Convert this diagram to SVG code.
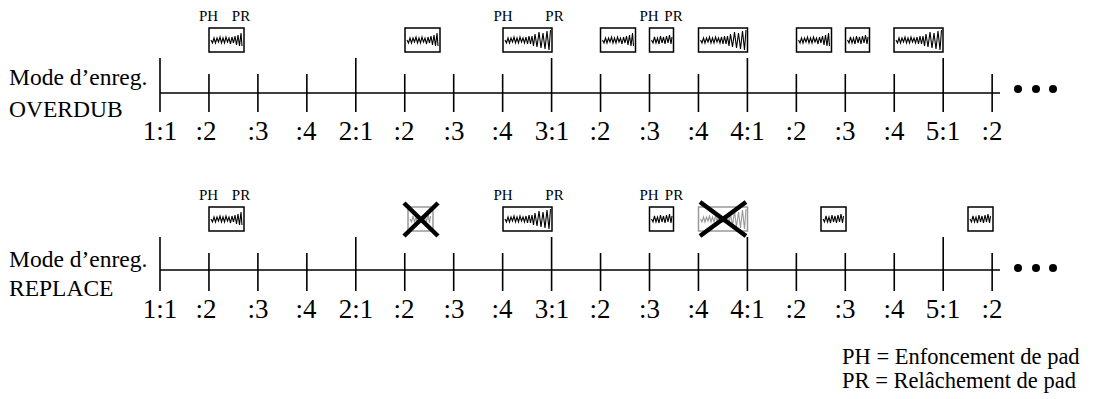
<svg xmlns="http://www.w3.org/2000/svg" xmlns:xlink="http://www.w3.org/1999/xlink" width="1096" height="399" viewBox="0 0 1096 399">
<style>
text{font-family:"Liberation Serif","Times New Roman",serif;fill:#000}
.lbl{font-size:23.5px}
.leg{font-size:22.5px}
.num{font-size:27px;text-anchor:middle}
.ph{font-size:15px;text-anchor:middle}
.axis{stroke:#000;stroke-width:1.6;fill:none}
.box{fill:#fff;stroke:#000;stroke-width:1.5}
.gbox{fill:#fff;stroke:#999;stroke-width:1.5}
.wave{fill:none;stroke:#000;stroke-width:1.1}
.gwave{fill:none;stroke:#999;stroke-width:1.1}
.cross{stroke:#000;stroke-width:4.5;stroke-linecap:butt}
</style>
<defs>
<polyline id="w35" points="2,12 3.5,15 5,10 6.5,15 8,10 9.5,14 11,9 12.5,15 14,10 15.5,15 17,9 18.5,14 20,10 21.5,16 23,9 24.5,15 26,8 27.5,17 29,7 30.5,18 32,5 33,18"/>
<polyline id="w49" points="2,12 3.5,15 5,10 6.5,15 8,10 9.5,14 11,9 12.5,15 14,10 15.5,15 17,9 18.5,14 20,10 21.5,15 23,9 24.5,16 26,8 27.5,16 29,8 30.5,18 32,6 34,19 36,4 38,20 40,5 42,21 44,3 46,22 47.5,2"/>
<polyline id="w24" points="2,12 3.5,15 5,9 6.5,15 8,10 9.5,16 11,8 12.5,15 14,9 15.5,16 17,8 18.5,15 20,7 21.5,16 22.5,9"/>
</defs>

<g id="overdub-label">
<text class="lbl" x="9" y="85">Mode d’enreg.</text>
<text class="lbl" x="9" y="117">OVERDUB</text>
</g>
<g id="replace-label">
<text class="lbl" x="9" y="267">Mode d’enreg.</text>
<text class="lbl" x="9" y="296">REPLACE</text>
</g>

<g id="connectors">
<g id="overdub-axis" class="axis">
<line x1="160" y1="93" x2="1000" y2="93"/>
<line x1="160" y1="58" x2="160" y2="112"/>
<line x1="208.95" y1="74" x2="208.95" y2="112"/>
<line x1="257.9" y1="74" x2="257.9" y2="112"/>
<line x1="306.85" y1="74" x2="306.85" y2="112"/>
<line x1="355.8" y1="58" x2="355.8" y2="112"/>
<line x1="404.75" y1="74" x2="404.75" y2="112"/>
<line x1="453.7" y1="74" x2="453.7" y2="112"/>
<line x1="502.65" y1="74" x2="502.65" y2="112"/>
<line x1="551.6" y1="58" x2="551.6" y2="112"/>
<line x1="600.55" y1="74" x2="600.55" y2="112"/>
<line x1="649.5" y1="74" x2="649.5" y2="112"/>
<line x1="698.45" y1="74" x2="698.45" y2="112"/>
<line x1="747.4" y1="58" x2="747.4" y2="112"/>
<line x1="796.35" y1="74" x2="796.35" y2="112"/>
<line x1="845.3" y1="74" x2="845.3" y2="112"/>
<line x1="894.25" y1="74" x2="894.25" y2="112"/>
<line x1="943.2" y1="58" x2="943.2" y2="112"/>
<line x1="992.15" y1="74" x2="992.15" y2="112"/>
</g>
<g id="replace-axis" class="axis">
<line x1="160" y1="270" x2="1000" y2="270"/>
<line x1="160" y1="237" x2="160" y2="291"/>
<line x1="208.95" y1="253" x2="208.95" y2="291"/>
<line x1="257.9" y1="253" x2="257.9" y2="291"/>
<line x1="306.85" y1="253" x2="306.85" y2="291"/>
<line x1="355.8" y1="237" x2="355.8" y2="291"/>
<line x1="404.75" y1="253" x2="404.75" y2="291"/>
<line x1="453.7" y1="253" x2="453.7" y2="291"/>
<line x1="502.65" y1="253" x2="502.65" y2="291"/>
<line x1="551.6" y1="237" x2="551.6" y2="291"/>
<line x1="600.55" y1="253" x2="600.55" y2="291"/>
<line x1="649.5" y1="253" x2="649.5" y2="291"/>
<line x1="698.45" y1="253" x2="698.45" y2="291"/>
<line x1="747.4" y1="237" x2="747.4" y2="291"/>
<line x1="796.35" y1="253" x2="796.35" y2="291"/>
<line x1="845.3" y1="253" x2="845.3" y2="291"/>
<line x1="894.25" y1="253" x2="894.25" y2="291"/>
<line x1="943.2" y1="237" x2="943.2" y2="291"/>
<line x1="992.15" y1="253" x2="992.15" y2="291"/>
</g>
</g>

<g id="overdub-dots">
<circle cx="1018" cy="89" r="4"/><circle cx="1036" cy="89" r="4"/><circle cx="1053" cy="89" r="4"/>
</g>
<g id="replace-dots">
<circle cx="1018" cy="268" r="4"/><circle cx="1036" cy="268" r="4"/><circle cx="1053" cy="268" r="4"/>
</g>

<g id="overdub-numbers">
<text class="num" x="160" y="140">1:1</text>
<text class="num" x="206" y="140">:2</text>
<text class="num" x="258" y="140">:3</text>
<text class="num" x="306" y="140">:4</text>
<text class="num" x="356" y="140">2:1</text>
<text class="num" x="404" y="140">:2</text>
<text class="num" x="454" y="140">:3</text>
<text class="num" x="502" y="140">:4</text>
<text class="num" x="552" y="140">3:1</text>
<text class="num" x="600" y="140">:2</text>
<text class="num" x="649.5" y="140">:3</text>
<text class="num" x="698" y="140">:4</text>
<text class="num" x="747.5" y="140">4:1</text>
<text class="num" x="796" y="140">:2</text>
<text class="num" x="845" y="140">:3</text>
<text class="num" x="894" y="140">:4</text>
<text class="num" x="943" y="140">5:1</text>
<text class="num" x="992" y="140">:2</text>
</g>
<g id="replace-numbers">
<text class="num" x="160" y="318">1:1</text>
<text class="num" x="206" y="318">:2</text>
<text class="num" x="258" y="318">:3</text>
<text class="num" x="306" y="318">:4</text>
<text class="num" x="356" y="318">2:1</text>
<text class="num" x="404" y="318">:2</text>
<text class="num" x="454" y="318">:3</text>
<text class="num" x="502" y="318">:4</text>
<text class="num" x="552" y="318">3:1</text>
<text class="num" x="600" y="318">:2</text>
<text class="num" x="649.5" y="318">:3</text>
<text class="num" x="698" y="318">:4</text>
<text class="num" x="747.5" y="318">4:1</text>
<text class="num" x="796" y="318">:2</text>
<text class="num" x="845" y="318">:3</text>
<text class="num" x="894" y="318">:4</text>
<text class="num" x="943" y="318">5:1</text>
<text class="num" x="992" y="318">:2</text>
</g>

<!-- OVERDUB events -->
<g id="o1"><text class="ph" x="208.5" y="21">PH</text><text class="ph" x="241" y="21">PR</text>
<rect class="box" x="209" y="28" width="35" height="24"/><use href="#w35" class="wave" x="209" y="28"/></g>
<g id="o2"><rect class="box" x="405" y="28" width="35" height="24"/><use href="#w35" class="wave" x="405" y="28"/></g>
<g id="o3"><text class="ph" x="503" y="21">PH</text><text class="ph" x="554.5" y="21">PR</text>
<rect class="box" x="503" y="28" width="49" height="24"/><use href="#w49" class="wave" x="503" y="28"/></g>
<g id="o4"><rect class="box" x="600.5" y="28" width="35" height="24"/><use href="#w35" class="wave" x="600.5" y="28"/></g>
<g id="o5"><text class="ph" x="649" y="21">PH</text><text class="ph" x="673.5" y="21">PR</text>
<rect class="box" x="649.5" y="28" width="24" height="24"/><use href="#w24" class="wave" x="649.5" y="28"/></g>
<g id="o6"><rect class="box" x="698.5" y="28" width="49" height="24"/><use href="#w49" class="wave" x="698.5" y="28"/></g>
<g id="o7"><rect class="box" x="796.5" y="28" width="35" height="24"/><use href="#w35" class="wave" x="796.5" y="28"/></g>
<g id="o8"><rect class="box" x="845.5" y="28" width="24" height="24"/><use href="#w24" class="wave" x="845.5" y="28"/></g>
<g id="o9"><rect class="box" x="894" y="28" width="49" height="24"/><use href="#w49" class="wave" x="894" y="28"/></g>

<!-- REPLACE events -->
<g id="r1"><text class="ph" x="208.5" y="200">PH</text><text class="ph" x="241" y="200">PR</text>
<rect class="box" x="209" y="207" width="35" height="24"/><use href="#w35" class="wave" x="209" y="207"/></g>
<g id="r2"><rect class="gbox" x="408" y="207" width="25" height="24"/><use href="#w24" class="gwave" x="408" y="207"/>
<line class="cross" x1="404" y1="203" x2="438" y2="236"/><line class="cross" x1="438" y1="203" x2="404" y2="236"/></g>
<g id="r3"><text class="ph" x="503" y="200">PH</text><text class="ph" x="554.5" y="200">PR</text>
<rect class="box" x="503" y="207" width="49" height="24"/><use href="#w49" class="wave" x="503" y="207"/></g>
<g id="r4"><text class="ph" x="649" y="200">PH</text><text class="ph" x="674" y="200">PR</text>
<rect class="box" x="649.5" y="207" width="24" height="24"/><use href="#w24" class="wave" x="649.5" y="207"/></g>
<g id="r5"><rect class="gbox" x="698.5" y="207" width="49" height="24"/><use href="#w49" class="gwave" x="698.5" y="207"/>
<line class="cross" x1="700" y1="202" x2="746" y2="236"/><line class="cross" x1="746" y1="202" x2="700" y2="236"/></g>
<g id="r6"><rect class="box" x="821" y="207" width="25" height="24"/><use href="#w24" class="wave" x="821" y="207"/></g>
<g id="r7"><rect class="box" x="968" y="207" width="25" height="24"/><use href="#w24" class="wave" x="968" y="207"/></g>

<g id="legend">
<text class="leg" x="842" y="364">PH = Enfoncement de pad</text>
<text class="leg" x="842" y="388">PR = Relâchement de pad</text>
</g>
</svg>
